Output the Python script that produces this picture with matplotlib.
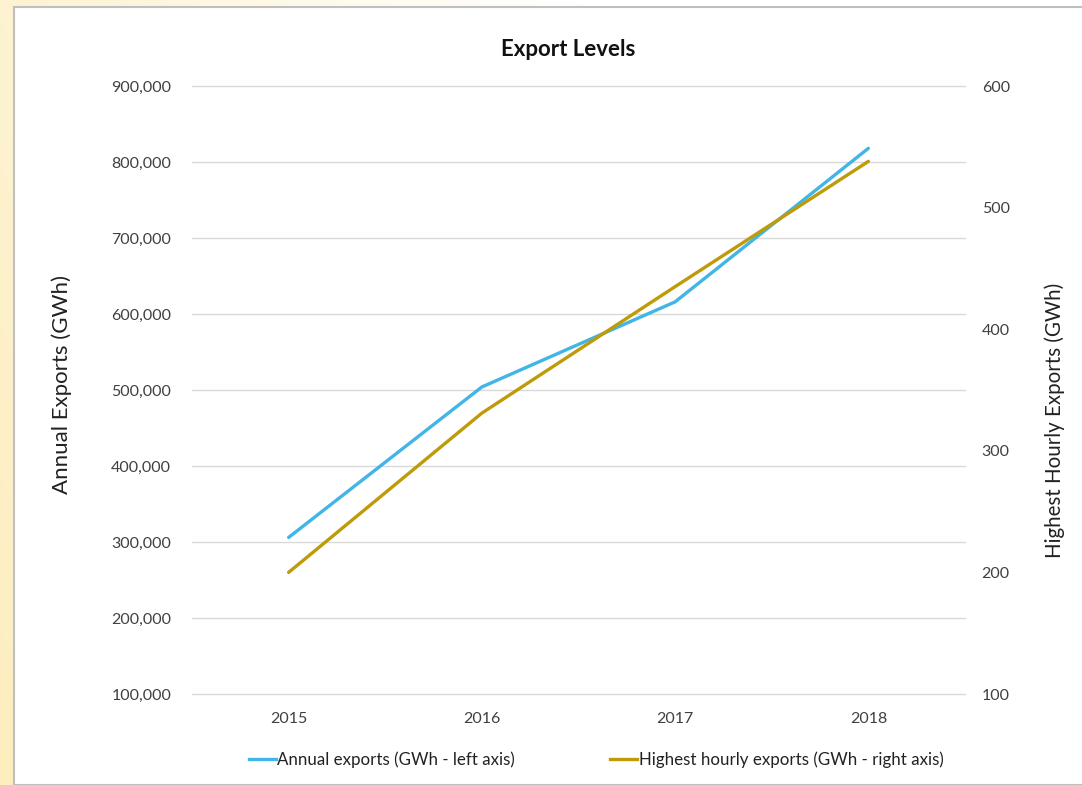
import matplotlib
matplotlib.use("Agg")
import matplotlib.pyplot as plt
import numpy as np
from matplotlib.patches import Rectangle
from matplotlib.ticker import FuncFormatter
from matplotlib.lines import Line2D

plt.rcParams['font.family'] = ['Lato', 'DejaVu Sans']

years = ["2015", "2016", "2017", "2018"]
annual_exports = [306000, 504000, 616000, 818000]
hourly_exports = [200, 331, 435, 538]
left_ticks = [100000, 200000, 300000, 400000, 500000, 600000, 700000, 800000, 900000]
right_ticks = [100, 200, 300, 400, 500, 600]

W, H = 1082, 785
fig = plt.figure(figsize=(W / 100, H / 100), dpi=100)

# background gradient
bg = fig.add_axes([0, 0, 1, 1], zorder=-10)
gx = np.linspace(0, 1, 300)
gy = np.linspace(0, 1, 200)
GX, GY = np.meshgrid(gx, gy)
t = np.clip(1 - (GX * 1.3 + (1 - GY) * 0.3), 0, 1)
c0 = np.array([1.0, 1.0, 1.0])
c1 = np.array([253, 238, 190]) / 255.0
img = c0[None, None, :] * (1 - t[..., None]) + c1[None, None, :] * t[..., None]
bg.imshow(img, extent=[0, 1, 0, 1], aspect='auto', origin='upper')
bg.add_patch(Rectangle((14 / W, 0), 1, 1 - 7 / H, facecolor='white',
                       edgecolor='#BFBFBF', linewidth=1.5, transform=bg.transAxes))
bg.set_xlim(0, 1)
bg.set_ylim(0, 1)
bg.axis('off')

ax = fig.add_axes([192 / W, 1 - 694 / H, (965 - 192) / W, (694 - 86) / H])
x = np.arange(len(years))
blue = '#41B6E6'
gold = '#BF9B0A'
ax.plot(x, annual_exports, color=blue, lw=2.4, solid_capstyle='round', zorder=3)
ax.set_xlim(-0.5, 3.5)
ax.set_ylim(100000, 900000)
ax.set_yticks(left_ticks)
ax.yaxis.set_major_formatter(FuncFormatter(lambda v, p: f"{int(v):,}"))
ax.set_xticks(x)
ax.set_xticklabels(years)
ax.grid(axis='y', color='#D9D9D9', lw=1)
for gl in ax.get_ygridlines():
    gl.set_clip_on(False)
ax.set_axisbelow(True)
for s in ax.spines.values():
    s.set_visible(False)
ax.tick_params(axis='both', length=0, labelsize=11.5, colors='#404040')
ax.tick_params(axis='y', pad=15)
ax.tick_params(axis='x', pad=13)

ax2 = ax.twinx()
ax2.plot(x, hourly_exports, color=gold, lw=2.4, solid_capstyle='round', zorder=3)
ax2.set_ylim(100, 600)
ax2.set_yticks(right_ticks)
for s in ax2.spines.values():
    s.set_visible(False)
ax2.tick_params(axis='y', length=0, labelsize=11.5, colors='#404040', pad=12)

fig.text(568 / W, 1 - 50 / H, "Export Levels", fontsize=16, fontweight='bold',
         color='#111111', ha='center', va='center')
fig.text(62 / W, 1 - 384 / H, "Annual Exports (GWh)", fontsize=16, color='#222222',
         rotation=90, ha='center', va='center')
fig.text(1055 / W, 1 - 420 / H, "Highest Hourly Exports (GWh)", fontsize=14.8,
         color='#222222', rotation=90, ha='center', va='center')

handles = [Line2D([0], [0], color=blue, lw=2.4),
           Line2D([0], [0], color=gold, lw=2.4)]
fig.legend(handles, ["Annual exports (GWh - left axis)", "Highest hourly exports (GWh - right axis)"],
           loc='center', bbox_to_anchor=(596 / W, 1 - 760 / H), ncol=2, frameon=False,
           fontsize=12.2, handlelength=1.6, handletextpad=0.1, columnspacing=5.6,
           labelcolor='#222222')

fig.savefig("out.png", dpi=100)
